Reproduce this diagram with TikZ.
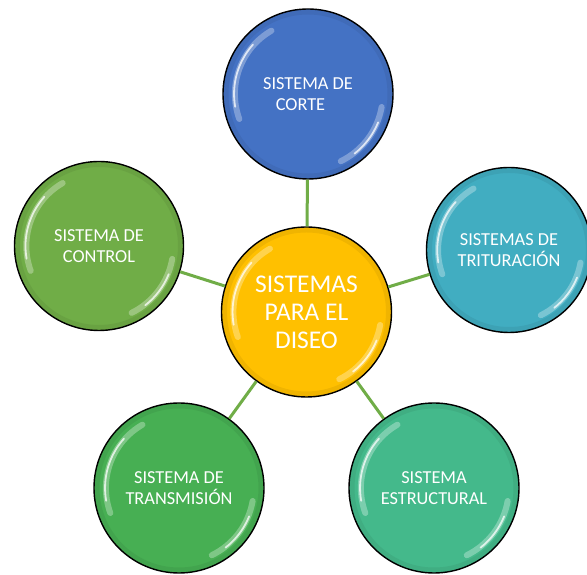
\documentclass[tikz,border=0pt]{standalone}
\usepackage{fontspec}
\setmainfont{Carlito}
\definecolor{cblue}{HTML}{4472C4}
\definecolor{cgold}{HTML}{FFC000}
\definecolor{cteal}{HTML}{41ADC1}
\definecolor{cgreen}{HTML}{70AD47}
\definecolor{cgreenb}{HTML}{47AF53}
\definecolor{cmint}{HTML}{44B98B}
\definecolor{cline}{HTML}{70AD47}
\tikzset{
  bubble/.style={circle, draw=black, line width=1.4pt, minimum size=170pt, inner sep=0pt,
    fill=#1, text=white, align=center, font=\fontsize{18.3}{20.5}\selectfont},
  hub/.style={bubble=#1, font=\fontsize{25.5}{28}\selectfont},
  conn/.style={draw=cline, line width=3pt},
  glowwide/.style={white, opacity=0.3, line width=6pt, line cap=round},
  glowcore/.style={white, opacity=0.75, line width=1.8pt, line cap=round},
  rim/.style={black, opacity=0.06, line width=5pt}
}
\begin{document}
\begin{tikzpicture}[x=1pt,y=1pt]
\useasboundingbox (0,0) rectangle (587,575);
\fill[white] (0,0) rectangle (587,575);
\node[hub=cgold] (c) at (306.5,263) {SISTEMAS\\PARA EL\\DISEO};
\node[bubble=cblue] (t) at (308,481) {SISTEMA DE\\CORTE\hspace*{15pt}};
\node[bubble=cteal, minimum size=165pt] (r) at (509,325) {SISTEMAS DE\\TRITURACIÓN};
\node[bubble=cgreen, minimum size=169pt] (l) at (99,329) {SISTEMA DE\\CONTROL};
\node[bubble=cgreenb] (bl) at (179,87) {SISTEMA DE\\TRANSMISIÓN};
\node[bubble=cmint] (br) at (434,87) {SISTEMA\\ESTRUCTURAL};
\foreach \n/\r in {c/85,t/85,r/82.5,l/84.5,bl/85,br/85}{
  \draw[rim] (\n.center) circle ({\r-3});
  \draw[glowwide] (\n.center) ++(120:{0.86*\r}) arc[start angle=120, end angle=200, radius={0.86*\r}];
  \draw[glowcore] (\n.center) ++(138:{0.87*\r}) arc[start angle=138, end angle=190, radius={0.87*\r}];
  \draw[glowwide] (\n.center) ++(-10:{0.88*\r}) arc[start angle=-10, end angle=-64, radius={0.88*\r}];
  \draw[glowcore] (\n.center) ++(-22:{0.89*\r}) arc[start angle=-22, end angle=-52, radius={0.89*\r}];
}
\draw[conn] (c) -- (t);
\draw[conn] (c) -- (r);
\draw[conn] (c) -- (l);
\draw[conn] (c) -- (bl);
\draw[conn] (c) -- (br);
\end{tikzpicture}
\end{document}
